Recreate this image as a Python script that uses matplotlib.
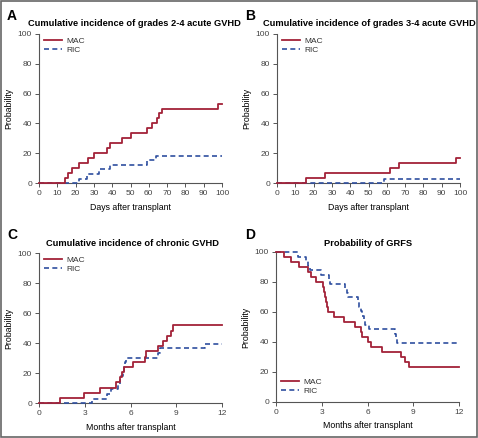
import matplotlib
matplotlib.use("Agg")
import matplotlib.pyplot as plt
from matplotlib.patches import Rectangle

# ---------------- data ----------------
# Panel A: grades 2-4 acute GVHD (days)
a_mac_x = [0, 14, 16, 18, 22, 27, 30, 37, 39, 45.5, 50, 59, 62, 64.6, 65.8, 67, 98, 100]
a_mac_y = [0, 3.3, 6.7, 10, 13.3, 16.7, 20, 23.3, 26.7, 30, 33.3, 36.7, 40, 43.3, 46.7, 50, 53.3, 53.3]
a_ric_x = [0, 22, 26, 33, 39, 59, 64, 100]
a_ric_y = [0, 3.0, 6.1, 9.1, 12.1, 15.2, 18.2, 18.2]

# Panel B: grades 3-4 acute GVHD (days)
b_mac_x = [0, 16, 26.5, 61.7, 66.8, 97.7, 100]
b_mac_y = [0, 3.3, 6.7, 10, 13.3, 16.7, 16.7]
b_ric_x = [0, 58.6, 100]
b_ric_y = [0, 3.0, 3.0]

# Panel C: chronic GVHD (months)
c_mac_x = [0, 1.4, 2.95, 4.0, 5.05, 5.3, 5.42, 5.55, 6.18, 6.95, 7.02, 7.83, 8.1, 8.4, 8.68, 8.8, 12]
c_mac_y = [0, 3.4, 6.9, 10.3, 13.8, 17.2, 20.7, 24.1, 27.6, 31.0, 34.5, 37.9, 41.4, 44.8, 48.3, 51.7, 51.7]
c_ric_x = [0, 3.45, 4.44, 4.7, 5.2, 5.3, 5.4, 5.5, 5.55, 5.62, 5.7, 7.83, 7.92, 10.9, 12]
c_ric_y = [0, 3.0, 6.1, 9.1, 12.1, 15.2, 18.2, 21.2, 24.2, 27.3, 30.3, 33.3, 36.4, 39.4, 39.4]

# Panel D: GRFS (months)
d_mac_x = [0, 0.55, 0.98, 1.49, 2.08, 2.3, 2.62, 3.06, 3.15, 3.22, 3.3, 3.36, 3.42, 3.82, 4.48,
           5.2, 5.57, 5.65, 6.0, 6.25, 6.93, 8.18, 8.46, 8.74, 12]
d_mac_y = [100, 96.7, 93.3, 90, 86.7, 83.3, 80, 76.7, 73.3, 70, 66.7, 63.3, 60, 56.7, 53.3,
           50, 46.7, 43.3, 40, 36.7, 33.3, 30, 26.7, 23.3, 23.3]
d_ric_x = [0, 1.42, 1.97, 2.1, 2.2, 2.95, 3.45, 3.55, 4.5, 4.65, 4.72, 5.35, 5.45, 5.55, 5.65,
           5.75, 5.85, 6.1, 7.8, 7.87, 7.95, 12]
d_ric_y = [100, 97.0, 93.9, 90.9, 87.9, 84.8, 81.8, 78.8, 75.8, 72.7, 69.7, 66.7, 63.6, 60.6, 57.6,
           54.5, 51.5, 48.5, 45.5, 42.4, 39.4, 39.4]

titles = ["Cumulative incidence of grades 2-4 acute GVHD",
          "Cumulative incidence of grades 3-4 acute GVHD",
          "Cumulative incidence of chronic GVHD",
          "Probability of GRFS"]
letters = ["A", "B", "C", "D"]
xlabels = ["Days after transplant", "Days after transplant",
           "Months after transplant", "Months after transplant"]
day_ticks = [0, 10, 20, 30, 40, 50, 60, 70, 80, 90, 100]
month_ticks = [0, 3, 6, 9, 12]
y_ticks = [0, 20, 40, 60, 80, 100]
series_names = ["MAC", "RIC"]

# ---------------- plotting ----------------
MAC_C = "#a32238"
RIC_C = "#2f4f9f"
narrow = ["Liberation Sans Narrow", "Liberation Sans", "DejaVu Sans"]
plt.rcParams["font.family"] = ["Liberation Sans", "DejaVu Sans"]

fig = plt.figure(figsize=(4.78, 4.38), dpi=100)
W, H = 478, 438

# axes boxes in pixels: (x0, xend, ytop, ybottom)
boxes = [(39, 222, 34, 183), (277, 460, 34, 183), (39, 222, 253, 403), (276, 459, 252, 402)]
data = [(a_mac_x, a_mac_y, a_ric_x, a_ric_y), (b_mac_x, b_mac_y, b_ric_x, b_ric_y),
        (c_mac_x, c_mac_y, c_ric_x, c_ric_y), (d_mac_x, d_mac_y, d_ric_x, d_ric_y)]
xmaxs = [100, 100, 12, 12]
xtick_sets = [day_ticks, day_ticks, month_ticks, month_ticks]
letter_pos = [(7, 9), (245, 9), (7, 228), (245, 228)]
title_pos = [(134, 24), (369, 24), (132, 244), (368, 244)]

for i in range(4):
    x0, x1, yt, yb = boxes[i]
    ax = fig.add_axes([x0 / W, 1 - yb / H, (x1 - x0) / W, (yb - yt) / H])
    mx, my, rx, ry = data[i]
    l2, = ax.step(rx, ry, where="post", color=RIC_C, lw=1.2, ls=(0, (3, 2)), clip_on=False, zorder=3)
    l1, = ax.step(mx, my, where="post", color=MAC_C, lw=1.3, clip_on=False, zorder=4)
    ax.set_xlim(0, xmaxs[i])
    ax.set_ylim(0, 100)
    ax.set_xticks(xtick_sets[i])
    ax.set_yticks(y_ticks)
    for s in ["top", "right"]:
        ax.spines[s].set_visible(False)
    for s in ["left", "bottom"]:
        ax.spines[s].set_color("#555555")
        ax.spines[s].set_linewidth(0.8)
    ax.tick_params(axis="both", direction="out", length=3, width=0.7, color="#555555",
                   labelsize=6, labelcolor="#444444", pad=2)
    ax.set_ylabel("Probability", fontsize=6.3, family=narrow, labelpad=3)
    ax.set_xlabel(xlabels[i], fontsize=6.3, family=narrow, labelpad=4)
    tx, ty = title_pos[i]
    fig.text(tx / W, 1 - ty / H, titles[i], fontsize=6.7,
             fontweight="bold", ha="center", va="center")
    if i == 3:
        leg = ax.legend([l1, l2], series_names, loc="lower left", frameon=False, fontsize=6,
                        handlelength=2.2, handletextpad=0.5, labelspacing=0.15,
                        borderaxespad=0.0, bbox_to_anchor=(0.01, 0.025))
    else:
        leg = ax.legend([l1, l2], series_names, loc="upper left", frameon=False, fontsize=6,
                        handlelength=2.2, handletextpad=0.5, labelspacing=0.15,
                        borderaxespad=0.0, bbox_to_anchor=(0.01, 1.0))
    for t in leg.get_texts():
        t.set_color("#333333")
    lx, ly = letter_pos[i]
    fig.text(lx / W, 1 - ly / H, letters[i], fontsize=10, fontweight="bold", ha="left", va="top")

fig.patches.append(Rectangle((0.002, 0.002), 0.996, 0.996, transform=fig.transFigure,
                             fill=False, edgecolor="#666666", lw=1.2))

fig.savefig("out.png", dpi=100)
